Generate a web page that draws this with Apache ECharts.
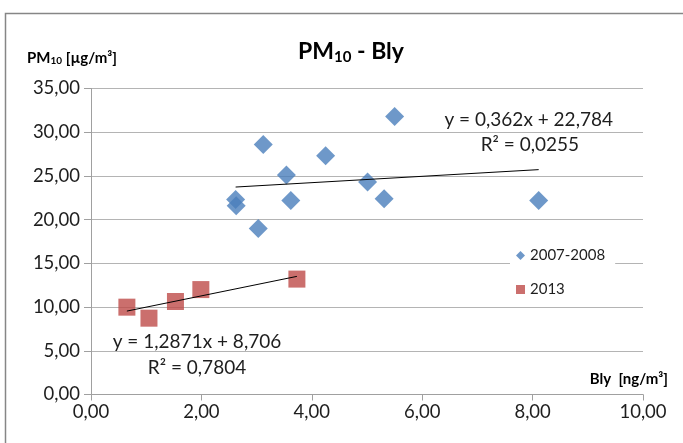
<!DOCTYPE html>
<html>
<head>
<meta charset="utf-8">
<script src="https://cdn.jsdelivr.net/npm/echarts@6/dist/echarts.min.js"></script>
<style>
html,body{margin:0;padding:0;background:#fff;}
#chart{width:683px;height:443px;}
</style>
</head>
<body>
<div id="chart"></div>
<script>
// Data
const xTicks = [0, 2, 4, 6, 8, 10];
const yTicks = [0, 5, 10, 15, 20, 25, 30, 35];
const series2007Name = '2007-2008';
const series2013Name = '2013';
const bly2007 = [3.12, 4.25, 3.54, 5.01, 2.62, 2.63, 3.62, 3.03, 5.31, 5.50, 8.11];
const pm2007  = [28.6, 27.3, 25.1, 24.3, 22.3, 21.6, 22.2, 19.0, 22.4, 31.8, 22.2];
const bly2013 = [0.65, 1.05, 1.53, 1.99, 3.73];
const pm2013  = [9.99, 8.73, 10.64, 12.0, 13.2];
// Trend line endpoints (from the displayed equations)
const trend2007 = [[2.62, 23.73], [8.11, 25.72]];
const trend2013 = [[0.65, 9.54], [3.73, 13.51]];
const eq2007 = ['y = 0,362x + 22,784', 'R² = 0,0255'];
const eq2013 = ['y = 1,2871x + 8,706', 'R² = 0,7804'];
const eq2007Pos = [[7.93, 31.45], [7.95, 28.5]];
const eq2013Pos = [[1.92, 6.05], [1.92, 3.1]];

const FONT = 'Lato, "Open Sans", sans-serif';
const TXT = '#1e1e1e';
const fmt = v => v.toFixed(2).replace('.', ',');
const zip = (a, b) => a.map((v, i) => [v, b[i]]);

const chart = echarts.init(document.getElementById('chart'), null, {renderer: 'canvas'});

function eqMarks(lines, pos) {
  return {
    symbol: 'circle', symbolSize: 0, silent: true,
    label: {show: true, position: 'inside', color: TXT, fontFamily: FONT, fontSize: 19,
      formatter: p => p.name},
    data: lines.map((t, i) => ({name: t, coord: pos[i]}))
  };
}

chart.setOption({
  animation: false,
  backgroundColor: '#fff',
  graphic: [{
    type: 'rect', shape: {x: 5.5, y: 13.5, width: 700, height: 460},
    style: {fill: 'none', stroke: '#868686', lineWidth: 1.5}, silent: true, z: -1
  }],
  title: [{
    text: 'PM{s|10} - Bly',
    left: 293, top: 34,
    textStyle: {fontFamily: FONT, fontWeight: 'bold', fontSize: 23, color: '#000',
      rich: {s: {fontFamily: FONT, fontWeight: 'bold', fontSize: 15, color: '#000', padding: [11, 0, 0, 0]}}}
  }, {
    text: 'PM{s|10} [µg/m³]',
    left: 22, top: 45,
    textStyle: {fontFamily: FONT, fontWeight: 'bold', fontSize: 15, color: '#000',
      rich: {s: {fontFamily: FONT, fontWeight: 'bold', fontSize: 10, color: '#000', padding: [6, 0, 0, 0]}}}
  }, {
    text: 'Bly  [ng/m³]',
    right: 10, top: 367,
    textStyle: {fontFamily: FONT, fontWeight: 'bold', fontSize: 15, color: '#000'}
  }],
  legend: {
    orient: 'vertical',
    left: 510, top: 242,
    data: [{name: series2007Name, icon: 'diamond'}, {name: series2013Name, icon: 'rect'}],
    itemWidth: 9, itemHeight: 9, itemGap: 19,
    backgroundColor: '#fff',
    padding: [6, 10, 6, 6],
    textStyle: {fontFamily: FONT, fontSize: 15, color: TXT}
  },
  grid: {left: 91, right: 40, top: 88.5, bottom: 48.5, containLabel: false},
  xAxis: {
    type: 'value', min: xTicks[0], max: xTicks[xTicks.length - 1], interval: xTicks[1] - xTicks[0],
    axisLine: {show: true, onZero: false, lineStyle: {color: '#a0a0a0', width: 1}},
    axisTick: {show: true, inside: false, length: 6, lineStyle: {color: '#a0a0a0'}},
    splitLine: {show: false},
    axisLabel: {formatter: fmt, fontFamily: FONT, fontSize: 18.5, color: TXT, margin: 8}
  },
  yAxis: {
    type: 'value', min: yTicks[0], max: yTicks[yTicks.length - 1], interval: yTicks[1] - yTicks[0],
    axisLine: {show: true, lineStyle: {color: '#a0a0a0', width: 1}},
    axisTick: {show: true, inside: false, length: 7, lineStyle: {color: '#a0a0a0'}},
    splitLine: {show: true, lineStyle: {color: '#b4b4b4', width: 1}},
    axisLabel: {formatter: fmt, fontFamily: FONT, fontSize: 18.5, color: TXT, margin: 11}
  },
  series: [{
    name: series2007Name, type: 'scatter', symbol: 'diamond', symbolSize: 19,
    itemStyle: {color: '#4A7EBB'}, z: 3,
    data: zip(bly2007, pm2007)
  }, {
    name: series2013Name, type: 'scatter', symbol: 'rect', symbolSize: 17,
    itemStyle: {color: '#BE4B48'}, z: 3,
    data: zip(bly2013, pm2013)
  }, {
    name: 'trend2007', type: 'line', data: trend2007, symbol: 'none', silent: true,
    lineStyle: {color: '#000', width: 1}, z: 4,
    markPoint: eqMarks(eq2007, eq2007Pos)
  }, {
    name: 'trend2013', type: 'line', data: trend2013, symbol: 'none', silent: true,
    lineStyle: {color: '#000', width: 1}, z: 4,
    markPoint: eqMarks(eq2013, eq2013Pos)
  }]
});
</script>
</body>
</html>
